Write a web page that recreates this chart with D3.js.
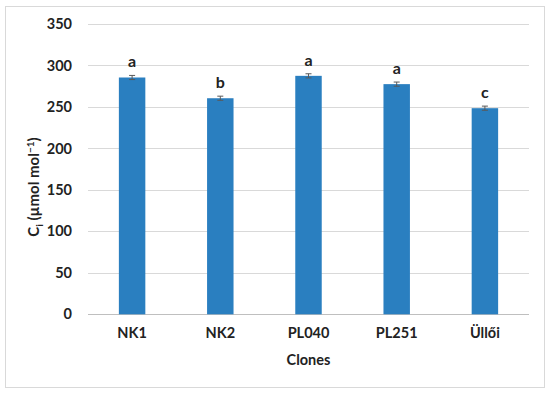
<!DOCTYPE html>
<html>
<head>
<meta charset="utf-8">
<script src="https://cdn.jsdelivr.net/npm/d3@7"></script>
<style>
  body { margin: 0; background: #fff; }
  text { font-family: Lato, "Open Sans", sans-serif; font-weight: bold; fill: #222; }
</style>
</head>
<body>
<div class="chart"></div>
<script>
// data
var clones = ["NK1", "NK2", "PL040", "PL251", "Üllői"];
var ciValues = [285.5, 260.5, 287.5, 277.5, 248.5];
var ciErrors = [2.5, 2.5, 2.5, 2.5, 2.5];
var letters = ["a", "b", "a", "a", "c"];
var yTicks = [0, 50, 100, 150, 200, 250, 300, 350];

var width = 550, height = 395;
var margin = {top: 24, right: 21, bottom: 81, left: 88};

var svg = d3.select(".chart").append("svg")
    .attr("width", width)
    .attr("height", height);

// outer frame
svg.append("rect")
    .attr("x", 5.5)
    .attr("y", 6.5)
    .attr("width", 539)
    .attr("height", 381)
    .style("fill", "#fff")
    .style("stroke", "#d9d9d9")
    .style("stroke-width", 1);

var x = d3.scaleBand()
    .domain(clones)
    .range([margin.left, width - margin.right])
    .paddingInner(0.7)
    .paddingOuter(0.35);

var y = d3.scaleLinear()
    .domain([0, 350])
    .range([height - margin.bottom + 0.3, margin.top]);

// gridlines
svg.append("g")
    .selectAll("line")
    .data(yTicks)
    .enter().append("line")
    .attr("x1", margin.left)
    .attr("x2", width - margin.right)
    .attr("y1", function(d){ return Math.round(y(d)) + 0.5; })
    .attr("y2", function(d){ return Math.round(y(d)) + 0.5; })
    .style("stroke", function(d){ return d === 0 ? "#bfbfbf" : "#d9d9d9"; })
    .style("stroke-width", 1);

// y tick labels
var yAxis = svg.append("g")
    .attr("transform", "translate(" + (margin.left - 16) + ",0)")
    .call(d3.axisLeft(y).tickValues(yTicks).tickSize(0).tickPadding(0));
yAxis.select(".domain").remove();
yAxis.selectAll("text")
    .attr("font-size", "14.5px")
    .style("font-family", "Lato, sans-serif")
    .style("font-weight", "bold")
    .style("fill", "#222");

// x tick labels
var xAxis = svg.append("g")
    .attr("transform", "translate(0," + (height - margin.bottom) + ")")
    .call(d3.axisBottom(x).tickSize(0).tickPadding(14));
xAxis.select(".domain").remove();
xAxis.selectAll("text")
    .attr("font-size", "14.5px")
    .style("font-family", "Lato, sans-serif")
    .style("font-weight", "bold")
    .style("fill", "#222");

// bars
svg.append("g")
    .selectAll("rect")
    .data(ciValues)
    .enter().append("rect")
    .attr("x", function(d, i){ return x(clones[i]); })
    .attr("y", function(d){ return y(d); })
    .attr("width", x.bandwidth())
    .attr("height", function(d){ return y(0) - y(d); })
    .style("fill", "#2a7fc0");

// error bars
var err = svg.append("g")
    .selectAll("g")
    .data(ciValues)
    .enter().append("g")
    .style("stroke", "#595959")
    .style("stroke-width", 1);

err.append("line")
    .attr("x1", function(d, i){ return x(clones[i]) + x.bandwidth() / 2; })
    .attr("x2", function(d, i){ return x(clones[i]) + x.bandwidth() / 2; })
    .attr("y1", function(d, i){ return y(d + ciErrors[i]); })
    .attr("y2", function(d, i){ return y(d - ciErrors[i]); });

err.append("line")
    .attr("x1", function(d, i){ return x(clones[i]) + x.bandwidth() / 2 - 3; })
    .attr("x2", function(d, i){ return x(clones[i]) + x.bandwidth() / 2 + 3; })
    .attr("y1", function(d, i){ return y(d + ciErrors[i]); })
    .attr("y2", function(d, i){ return y(d + ciErrors[i]); });

err.append("line")
    .attr("x1", function(d, i){ return x(clones[i]) + x.bandwidth() / 2 - 3; })
    .attr("x2", function(d, i){ return x(clones[i]) + x.bandwidth() / 2 + 3; })
    .attr("y1", function(d, i){ return y(d - ciErrors[i]); })
    .attr("y2", function(d, i){ return y(d - ciErrors[i]); });

// significance letters
svg.append("g")
    .selectAll("text")
    .data(letters)
    .enter().append("text")
    .attr("x", function(d, i){ return x(clones[i]) + x.bandwidth() / 2; })
    .attr("y", function(d, i){ return y(ciValues[i] + ciErrors[i]) - 8; })
    .attr("text-anchor", "middle")
    .attr("font-size", "16px")
    .text(function(d){ return d; });

// x axis title
svg.append("text")
    .attr("x", (margin.left + width - margin.right) / 2)
    .attr("y", 365)
    .attr("text-anchor", "middle")
    .attr("font-size", "14.5px")
    .text("Clones");

// y axis title
var yt = svg.append("text")
    .attr("transform", "translate(39,187) rotate(-90)")
    .attr("text-anchor", "middle")
    .attr("font-size", "15px");
yt.append("tspan").text("C");
yt.append("tspan").attr("font-size", "10px").attr("dy", 4).text("i");
yt.append("tspan").attr("dy", -4).text(" (µmol mol");
yt.append("tspan").attr("font-size", "10px").attr("dy", -5).text("−1");
yt.append("tspan").attr("dy", 5).text(")");
</script>
</body>
</html>
